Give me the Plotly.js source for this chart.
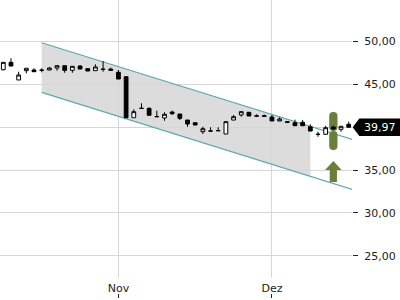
<!DOCTYPE html>
<html>
<head>
<meta charset="utf-8">
<script src="https://cdn.plot.ly/plotly-3.0.1.min.js"></script>
<style>html,body{margin:0;padding:0;background:#fff}#chart{width:400px;height:300px}</style>
</head>
<body>
<div id="chart"></div>
<script>
// Trading days (category labels)
const dates = [
  "11.10.","12.10.","13.10.","16.10.","17.10.","18.10.","19.10.","20.10.","23.10.","24.10.",
  "25.10.","26.10.","27.10.","30.10.","31.10.","01.11.","02.11.","03.11.","06.11.","07.11.",
  "08.11.","09.11.","10.11.","13.11.","14.11.","15.11.","16.11.","17.11.","20.11.","21.11.",
  "22.11.","23.11.","24.11.","27.11.","28.11.","01.12.","04.12.","05.12.","06.12.","07.12.",
  "08.12.","11.12.","12.12.","13.12.","14.12.","15.12."
];
const openP  = [46.66,47.52,45.47,46.55,46.63,46.62,46.63,46.86,47.13,46.59,
                47.09,46.78,46.55,46.73,46.74,46.36,45.85,41.08,42.18,42.17,
                41.22,41.05,41.74,41.51,40.81,40.50,39.45,39.54,39.58,39.19,
                40.81,41.40,41.71,41.30,41.31,41.16,40.70,40.62,40.50,40.55,
                40.03,39.16,39.15,40.00,39.73,40.31];
const highP  = [47.55,47.99,46.43,46.83,46.83,46.83,46.98,47.13,47.13,47.06,
                47.21,46.86,47.29,47.67,46.90,46.63,45.85,42.06,42.76,42.29,
                41.90,41.71,41.90,41.51,40.81,40.50,40.03,39.97,39.97,40.62,
                41.40,41.86,41.71,41.48,41.45,41.40,41.13,40.70,40.85,40.81,
                40.31,39.45,40.15,40.15,40.08,40.62];
const lowP   = [46.60,47.09,45.47,46.24,46.43,46.36,46.63,46.55,46.31,46.31,
                46.74,46.51,46.55,46.43,46.60,45.58,41.08,41.08,42.15,41.36,
                41.19,40.73,41.40,40.81,40.03,40.23,39.19,39.52,39.56,39.19,
                40.81,41.20,41.28,41.16,41.20,40.70,40.70,40.45,40.15,40.15,
                39.53,38.87,39.15,39.70,39.45,39.97];
const closeP = [47.52,47.09,46.05,46.83,46.43,46.60,46.86,47.13,46.59,47.06,
                46.74,46.51,46.98,46.70,46.60,45.58,41.08,41.78,42.16,41.36,
                41.20,41.48,41.55,41.01,40.35,40.23,39.80,39.53,39.57,40.62,
                41.20,41.78,41.28,41.27,41.25,40.70,40.93,40.55,40.15,40.15,
                39.53,39.14,39.92,39.77,40.08,39.97];

// Trend channel (index positions, values)
const channelX     = [5, 46];
const channelUpper = [49.80, 38.41];
const channelLower = [44.03, 32.60];
const fillX        = [5, 40, 40, 5];
const fillY        = [49.80, 40.06, 34.25, 44.03];

// Signal
const signalDate  = "13.12.";
const signalRange = [37.33, 41.74];
const arrowTop = 36.05, arrowHeadBase = 35.0, arrowBottom = 33.6;

// Axis ticks
const xTickDates = ["01.11.", "01.12."];
const xTickText  = ["Nov", "Dez"];
const yTickVals  = [25, 30, 35, 40, 45, 50];
const yTickText  = ["25,00", "30,00", "35,00", "", "45,00", "50,00"];
const lastPrice = closeP[closeP.length - 1];
const lastLabel = "39,97";

const xi = dates.map((d, i) => i);
const xTickVals = xTickDates.map(d => dates.indexOf(d));
const sx = dates.indexOf(signalDate);
const sMid = (signalRange[0] + signalRange[1]) / 2;
const xRange = [-0.43, 45.43];
const yRange = [22.44, 54.77];

const channelColor = '#5ea7ae';
const green = '#6b7f3c';

const traces = [
  {type: 'bar', x: [sx], y: [signalRange[1] - sMid], base: [sMid], width: 1.08,
   marker: {color: green, cornerradius: 4, line: {width: 0}}, showlegend: false},
  {type: 'bar', x: [sx], y: [signalRange[0] - sMid], base: [sMid], width: 1.08,
   marker: {color: green, cornerradius: 4, line: {width: 0}}, showlegend: false},
  {type: 'candlestick', x: xi, open: openP, high: highP, low: lowP, close: closeP,
   increasing: {line: {color: '#000', width: 1}, fillcolor: '#ffffff'},
   decreasing: {line: {color: '#000', width: 1}, fillcolor: '#000000'},
   whiskerwidth: 0, showlegend: false},
  {type: 'scatter', mode: 'lines', fill: 'toself', fillcolor: green,
   x: [sx, sx - 1.08, sx - 0.47, sx - 0.47, sx + 0.47, sx + 0.47, sx + 1.08, sx],
   y: [arrowTop, arrowHeadBase, arrowHeadBase, arrowBottom, arrowBottom, arrowHeadBase, arrowHeadBase, arrowTop],
   line: {width: 0, color: green}, showlegend: false},
  {type: 'scatter', x: [], y: [], xaxis: 'x2', yaxis: 'y2', showlegend: false}
];

const fillPath = 'M ' + fillX.map((x, i) => x + ',' + fillY[i]).join(' L ') + ' Z';

const layout = {
  width: 400, height: 300,
  margin: {l: 0, r: 48, t: 0, b: 2, pad: 0},
  paper_bgcolor: '#ffffff', plot_bgcolor: '#ffffff',
  font: {family: 'DejaVu Sans', size: 11, color: '#222'},
  showlegend: false,
  barmode: 'overlay',
  xaxis: {
    range: xRange, tickmode: 'array', tickvals: xTickVals, ticktext: xTickText,
    showgrid: true, gridcolor: '#d6d6d6', gridwidth: 1, zeroline: false, showline: false,
    ticks: '', ticklabelstandoff: 2, rangeslider: {visible: false}, anchor: 'y'
  },
  xaxis2: {
    range: xRange, tickmode: 'array', tickvals: xTickVals, anchor: 'y2',
    showgrid: false, zeroline: false, showline: false, showticklabels: false,
    ticks: 'inside', ticklen: 4, tickcolor: '#222', tickwidth: 1
  },
  yaxis: {
    domain: [20 / 298, 1], range: yRange, side: 'right',
    tickmode: 'array', tickvals: yTickVals, ticktext: yTickText,
    showgrid: true, gridcolor: '#d6d6d6', gridwidth: 1, zeroline: false, showline: false,
    ticks: 'outside', ticklen: 5, tickcolor: '#222', tickwidth: 1, ticklabelstandoff: 4
  },
  yaxis2: {domain: [0, 0.01], range: [0, 1], visible: false},
  shapes: [
    {type: 'path', xref: 'x', yref: 'y', path: fillPath,
     fillcolor: '#dcdcdc', line: {width: 0}, layer: 'below'},
    {type: 'line', xref: 'x', yref: 'y', x0: channelX[0], x1: channelX[1],
     y0: channelUpper[0], y1: channelUpper[1], line: {color: channelColor, width: 1.2}, layer: 'between'},
    {type: 'line', xref: 'x', yref: 'y', x0: channelX[0], x1: channelX[1],
     y0: channelLower[0], y1: channelLower[1], line: {color: channelColor, width: 1.2}, layer: 'between'},
    {type: 'path', xref: 'paper', yref: 'y', xsizemode: 'pixel', ysizemode: 'pixel',
     xanchor: 1, yanchor: lastPrice,
     path: 'M 0.7 0 L 7.3 8.7 L 48 8.7 L 48 -8.7 L 7.3 -8.7 Z',
     fillcolor: '#000', line: {width: 0}, layer: 'above'}
  ],
  annotations: [{
    xref: 'paper', yref: 'y', x: 1, y: lastPrice, xanchor: 'left', yanchor: 'middle',
    xshift: 10, text: lastLabel, showarrow: false,
    font: {family: 'DejaVu Sans', size: 11, color: '#ffffff'}
  }]
};

Plotly.newPlot('chart', traces, layout, {staticPlot: true, displayModeBar: false});
</script>
</body>
</html>
